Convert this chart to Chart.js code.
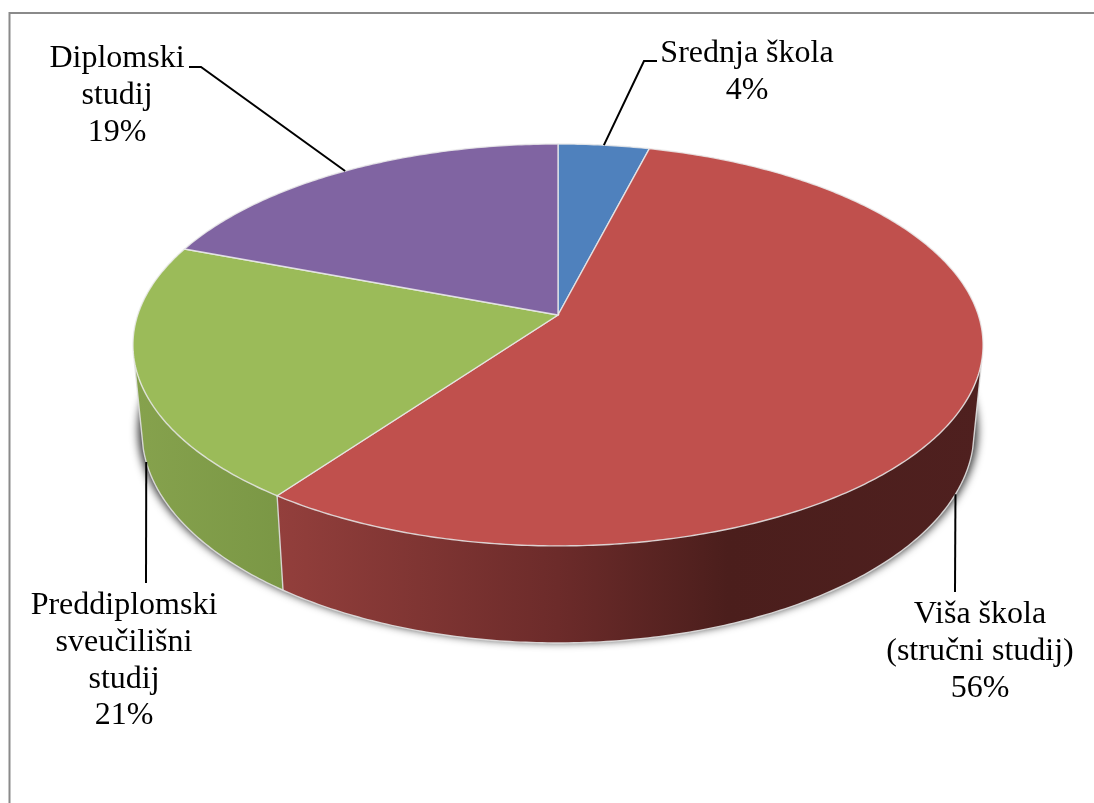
<!DOCTYPE html>
<html>
<head>
<meta charset="utf-8">
<style>
  html, body { margin: 0; padding: 0; background: #fff; overflow: hidden; }
  canvas { display: block; }
</style>
<script src="https://cdn.jsdelivr.net/npm/chart.js@4"></script>
</head>
<body>
<canvas id="pie" width="1094" height="803"></canvas>
<script>
const categories = [
  ["Srednja škola"],
  ["Viša škola", "(stručni studij)"],
  ["Preddiplomski", "sveučilišni", "studij"],
  ["Diplomski", "studij"]
];
// estimated from the slice edges, the labels show them rounded
const shares = [4, 56, 20.75, 19.25];
const topColors = ["#4f81bd", "#c0504d", "#9bbb59", "#8064a2"];

// x of the centred text, baseline of first line, leader bend and end
const labelLayout = [
  { x: 747, y: 62, bend: [644, 61], end: [657, 61], rim: false },
  { x: 980, y: 623, bend: [955, 592], end: [955, 592], rim: true },
  { x: 124, y: 614, bend: [146, 583], end: [146, 583], rim: true },
  { x: 117, y: 67, bend: [201, 67], end: [189, 67], rim: false }
];

// the pie is tilted, so the centre of the disc does not sit mid ellipse
const tilt = 0.149;
const topFace = { x: 558, y: 315, a: 420.3, b: 196.5 };
const bottomFace = { x: 558, y: 400.3, a: 411.4, b: 206.5 };
const shadowFace = { x: 558, y: 399, a: 415, b: 207 };
const frontFrom = 103 * Math.PI / 180;
const frontTo = 257 * Math.PI / 180;

function project(face, theta) {
  const u = Math.sin(theta);
  const v = -Math.cos(theta);
  const w = 1 - tilt * v;
  return [face.x + face.a * u / w, face.y + face.b * v / w];
}

function trace(ctx, face, from, to) {
  const steps = Math.max(2, Math.ceil(Math.abs(to - from) * 90));
  for (let i = 0; i <= steps; i++) {
    const p = project(face, from + (to - from) * i / steps);
    ctx.lineTo(p[0], p[1]);
  }
}

function sideGradient(ctx, index) {
  const g = ctx.createLinearGradient(133, 0, 983, 0);
  if (index === 2) {
    g.addColorStop(0, "#86a24d");
    g.addColorStop(0.18, "#7a9745");
  } else {
    g.addColorStop(0.17, "#933f3c");
    g.addColorStop(0.5, "#6c2b2a");
    g.addColorStop(0.7, "#4b1e1c");
    g.addColorStop(1, "#4f201f");
  }
  return g;
}

// chart.js angles start at -90deg, here 0 is straight up
const sweep = arc => [arc.startAngle + Math.PI / 2, arc.endAngle + Math.PI / 2];

const tiltedPie = {
  id: "tiltedPie",
  beforeDraw(chart) {
    const { ctx } = chart;
    ctx.save();
    ctx.strokeStyle = "#8a8a8a";
    ctx.lineWidth = 2;
    ctx.beginPath();
    ctx.moveTo(9.5, 803);
    ctx.lineTo(9.5, 13);
    ctx.lineTo(1094, 13);
    ctx.stroke();
    ctx.restore();
  },
  beforeDatasetsDraw(chart) {
    const { ctx } = chart;
    const arcs = chart.getDatasetMeta(0).data;

    ctx.save();
    // only the blur is wanted, so the shape itself sits off the canvas
    ctx.save();
    ctx.shadowColor = "rgba(0,0,0,0.8)";
    ctx.shadowBlur = 9;
    ctx.shadowOffsetX = 3000;
    ctx.translate(-3000, 0);
    ctx.beginPath();
    trace(ctx, shadowFace, 0, Math.PI * 2);
    ctx.closePath();
    ctx.fill();
    ctx.restore();

    // side walls, only the part facing us
    arcs.forEach((arc, i) => {
      const [start, end] = sweep(arc);
      const from = Math.max(start, frontFrom);
      const to = Math.min(end, frontTo);
      if (to <= from) return;
      ctx.beginPath();
      trace(ctx, bottomFace, from, to);
      trace(ctx, topFace, to, from);
      ctx.closePath();
      ctx.fillStyle = sideGradient(ctx, i);
      ctx.fill();
    });

    // light edges of the walls
    ctx.strokeStyle = "rgba(225,225,225,0.9)";
    ctx.lineWidth = 1.4;
    ctx.beginPath();
    ctx.moveTo(...project(topFace, frontFrom));
    trace(ctx, bottomFace, frontFrom, frontTo);
    ctx.lineTo(...project(topFace, frontTo));
    ctx.stroke();
    arcs.forEach(arc => {
      const start = sweep(arc)[0];
      if (start <= frontFrom || start >= frontTo) return;
      const a = project(topFace, start);
      const b = project(bottomFace, start);
      ctx.beginPath();
      ctx.moveTo(a[0], a[1]);
      ctx.lineTo(b[0], b[1]);
      ctx.stroke();
    });

    // top face
    arcs.forEach((arc, i) => {
      const [start, end] = sweep(arc);
      ctx.beginPath();
      ctx.moveTo(topFace.x, topFace.y);
      trace(ctx, topFace, start, end);
      ctx.closePath();
      ctx.fillStyle = topColors[i];
      ctx.fill();
      ctx.strokeStyle = "rgba(235,235,235,0.85)";
      ctx.lineWidth = 1.4;
      ctx.stroke();
    });

    // leaders and labels
    ctx.strokeStyle = "#000";
    ctx.lineWidth = 2;
    ctx.fillStyle = "#000";
    ctx.font = "32px 'Liberation Serif'";
    ctx.textAlign = "center";
    ctx.textBaseline = "alphabetic";
    arcs.forEach((arc, i) => {
      const [start, end] = sweep(arc);
      const place = labelLayout[i];
      const anchor = project(place.rim ? bottomFace : topFace, (start + end) / 2);
      ctx.beginPath();
      ctx.moveTo(anchor[0], anchor[1]);
      ctx.lineTo(place.bend[0], place.bend[1]);
      ctx.lineTo(place.end[0], place.end[1]);
      ctx.stroke();

      const lines = categories[i].concat(Math.round(shares[i]) + "%");
      lines.forEach((line, n) => {
        ctx.fillText(line, place.x, place.y + n * 36.8);
      });
    });
    ctx.restore();
    return false;
  }
};

new Chart(document.getElementById("pie"), {
  type: "pie",
  data: {
    labels: categories.map(c => c.join(" ")),
    datasets: [{ data: shares, backgroundColor: topColors }]
  },
  options: {
    responsive: false,
    animation: false,
    plugins: { legend: { display: false }, tooltip: { enabled: false } }
  },
  plugins: [tiltedPie]
});
</script>
</body>
</html>
